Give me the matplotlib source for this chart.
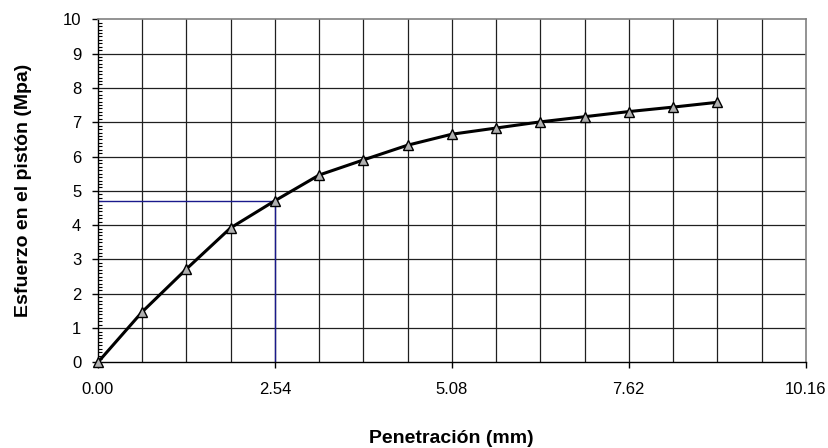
import numpy as np
import matplotlib
matplotlib.use("Agg")
import matplotlib.pyplot as plt
from matplotlib.ticker import MultipleLocator, FixedLocator

plt.rcParams['font.family'] = ['Liberation Sans', 'DejaVu Sans']

# penetracion (mm) y esfuerzo (MPa)
penetracion = [0.0, 0.635, 1.27, 1.905, 2.54, 3.175, 3.81, 4.445,
               5.08, 5.715, 6.35, 6.985, 7.62, 8.255, 8.89]
esfuerzo = [0.0, 1.47, 2.72, 3.92, 4.71, 5.46, 5.90, 6.33,
            6.65, 6.83, 7.01, 7.16, 7.31, 7.44, 7.58]
x_ticks = [0.0, 2.54, 5.08, 7.62, 10.16]
x_ref, y_ref = 2.54, 4.71

fig = plt.figure(figsize=(8.29, 4.48), dpi=100)
ax = fig.add_axes([0.118, 0.191, 0.854, 0.766])

ax.set_xlim(0, 10.16)
ax.set_ylim(0, 10)

# rejilla
for xv in np.arange(1, 16) * 0.635:
    ax.axvline(xv, color='#202020', lw=0.9, zorder=1)
for yv in range(1, 10):
    ax.axhline(yv, color='#202020', lw=0.9, zorder=1)

# linea de referencia
ax.plot([0, x_ref, x_ref], [y_ref, y_ref, 0], color='#1a1a8c', lw=1.0, zorder=2)

ax.plot(penetracion, esfuerzo, color='black', lw=2.2, marker='^',
        markersize=7.5, markerfacecolor='#b0b0b0', markeredgecolor='black',
        markeredgewidth=1.0, zorder=3, clip_on=False)

ax.xaxis.set_major_locator(FixedLocator(x_ticks))
ax.set_xticklabels([f"{v:.2f}" for v in x_ticks])
ax.yaxis.set_major_locator(MultipleLocator(1))
ax.yaxis.set_minor_locator(MultipleLocator(0.1))
ax.tick_params(axis='x', which='major', direction='out', length=4,
               width=1, labelsize=12, colors='black', pad=10)
ax.tick_params(axis='y', which='major', direction='out', length=4,
               width=1, labelsize=12, colors='black', pad=8)
ax.tick_params(axis='y', which='minor', direction='in', length=3, width=0.8)

for s in ['top', 'right']:
    ax.spines[s].set_color('#808080')
    ax.spines[s].set_linewidth(1.2)
for s in ['left', 'bottom']:
    ax.spines[s].set_color('black')
    ax.spines[s].set_linewidth(1.0)

ax.set_xlabel('Penetración (mm)', fontsize=14, fontweight='bold', labelpad=24)
ax.set_ylabel('Esfuerzo en el pistón (Mpa)', fontsize=14, fontweight='bold', labelpad=22)

fig.savefig('out.png', dpi=100)
